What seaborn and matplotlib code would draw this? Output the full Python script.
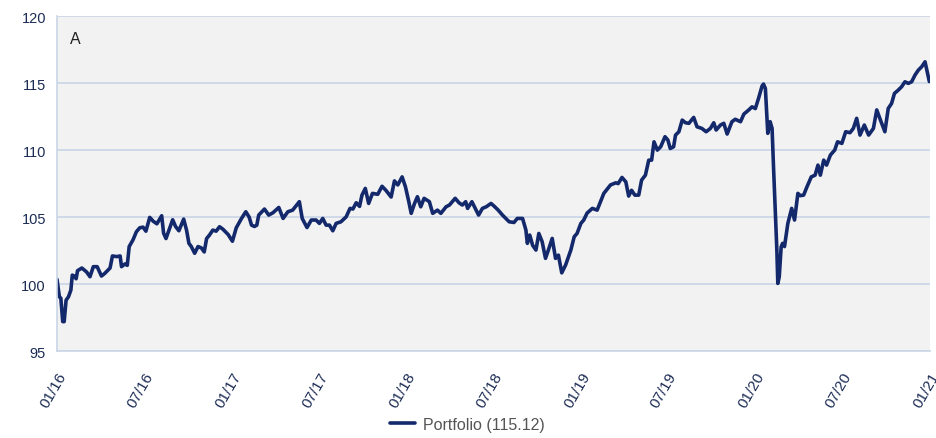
import pandas as pd
import matplotlib
matplotlib.use("Agg")
import matplotlib.pyplot as plt
import matplotlib.dates as mdates
import seaborn as sns

# valeurs (jours depuis le 01/01/2016, niveau de l'indice)
jours = [
    0, 5, 8, 12, 15, 19, 24, 29, 32, 36, 40, 43, 52, 62, 69, 76, 84, 93, 100, 111,
    116, 125, 132, 135, 142, 147, 151, 159, 166, 173, 180, 186, 194, 201, 209, 219, 223, 228, 232, 242,
    248, 255, 265, 271, 276, 281, 288, 295, 302, 308, 313, 319, 326, 333, 340, 347, 358, 367, 375, 386,
    395, 402, 407, 413, 418, 422, 434, 443, 452, 464, 473, 483, 493, 507, 513, 523, 532, 542, 549, 556,
    563, 570, 577, 584, 594, 605, 613, 619, 626, 633, 638, 645, 652, 660, 671, 680, 688, 699, 706, 713,
    722, 729, 736, 741, 748, 754, 761, 768, 779, 786, 796, 803, 814, 821, 833, 841, 848, 855, 859, 868,
    875, 882, 890, 898, 908, 915, 923, 932, 946, 956, 963, 974, 981, 984, 989, 995, 1002, 1008, 1015, 1022,
    1028, 1036, 1043, 1049, 1056, 1064, 1075, 1082, 1088, 1096, 1102, 1109, 1120, 1130, 1137, 1144, 1158, 1169, 1174, 1182,
    1190, 1196, 1202, 1209, 1217, 1223, 1231, 1238, 1244, 1249, 1256, 1263, 1272, 1278, 1283, 1290, 1294, 1301, 1308, 1315,
    1322, 1332, 1339, 1349, 1358, 1367, 1374, 1379, 1388, 1395, 1402, 1412, 1419, 1430, 1437, 1447, 1454, 1461, 1468, 1475,
    1478, 1482, 1487, 1492, 1496, 1499, 1506, 1508, 1511, 1515, 1518, 1522, 1529, 1537, 1543, 1550, 1555, 1562, 1569, 1578,
    1586, 1592, 1597, 1604, 1610, 1618, 1627, 1633, 1642, 1650, 1659, 1666, 1673, 1680, 1689, 1698, 1708, 1715, 1724, 1732,
    1739, 1746, 1752, 1760, 1767, 1774, 1781, 1788, 1795, 1802, 1809, 1816, 1819, 1825,
]
valeurs = [
    100.35, 99.05, 98.95, 97.2, 97.2, 98.8, 99.05, 99.55, 100.67, 100.6, 100.4, 101.0, 101.2, 100.9, 100.55, 101.3, 101.3, 100.6, 100.8, 101.2,
    102.1, 102.05, 102.1, 101.3, 101.5, 101.4, 102.8, 103.3, 103.9, 104.2, 104.25, 103.95, 104.98, 104.7, 104.5, 105.1, 103.8, 103.4, 103.8, 104.8,
    104.3, 103.98, 104.85, 104.03, 103.04, 102.8, 102.3, 102.8, 102.7, 102.4, 103.4, 103.66, 104.03, 103.95, 104.28, 104.1, 103.7, 103.2, 104.2, 104.9,
    105.4, 105.0, 104.4, 104.3, 104.4, 105.15, 105.6, 105.15, 105.33, 105.72, 104.9, 105.4, 105.52, 106.15, 104.9, 104.22, 104.78, 104.78, 104.53, 104.9,
    104.4, 104.4, 103.98, 104.53, 104.65, 105.02, 105.65, 105.6, 106.07, 105.8, 106.64, 107.14, 106.02, 106.77, 106.7, 107.3, 107.0, 106.5, 107.7, 107.4,
    108.0, 107.26, 106.15, 105.28, 106.02, 106.52, 105.77, 106.4, 106.15, 105.28, 105.52, 105.28, 105.77, 105.9, 106.4, 106.07, 105.9, 106.15, 105.65, 106.15,
    105.65, 105.15, 105.65, 105.77, 106.02, 105.8, 105.52, 105.15, 104.65, 104.6, 104.9, 104.9, 104.03, 103.04, 103.66, 102.9, 102.54, 103.78, 103.16, 101.92,
    102.54, 103.41, 101.92, 102.16, 100.84, 101.42, 102.54, 103.53, 103.78, 104.53, 104.78, 105.3, 105.65, 105.52, 106.15, 106.77, 107.4, 107.56, 107.5, 107.96,
    107.63, 106.57, 107.0, 106.64, 106.64, 107.76, 108.13, 109.25, 109.25, 110.62, 110.0, 110.25, 111.0, 110.75, 110.12, 110.25, 111.12, 111.37, 112.24, 112.04,
    112.0, 112.44, 111.74, 111.62, 111.37, 111.62, 112.04, 111.5, 111.87, 112.0, 111.2, 112.12, 112.3, 112.12, 112.69, 112.99, 113.23, 113.1, 113.9, 114.78,
    114.93, 114.6, 111.25, 112.12, 111.62, 108.76, 102.54, 100.05, 100.54, 102.78, 103.04, 102.8, 104.53, 105.65, 104.78, 106.77, 106.6, 106.64, 107.26, 108.0,
    108.13, 108.88, 108.13, 109.25, 108.88, 109.63, 110.0, 110.62, 110.5, 111.37, 111.3, 111.62, 112.37, 111.12, 111.87, 111.12, 111.62, 113.0, 112.12, 111.37,
    113.11, 113.48, 114.23, 114.48, 114.73, 115.1, 114.98, 115.1, 115.6, 115.97, 116.22, 116.59, 116.1, 115.12,
]
y_ticks = [95, 100, 105, 110, 115, 120]
etiquette = "Portfolio (115.12)"

df = pd.DataFrame({
    "date": pd.Timestamp("2016-01-01") + pd.to_timedelta(jours, unit="D"),
    "valeur": valeurs,
})

sns.set_style("white")
plt.rcParams["font.family"] = ["Liberation Sans", "DejaVu Sans"]

bleu = "#13296b"
grille = "#c9d5e6"

fig = plt.figure(figsize=(9.36, 4.39), dpi=100)
ax = fig.add_axes([0.0609, 0.198, 0.933, 0.763])
ax.set_facecolor("#f2f2f2")

sns.lineplot(data=df, x="date", y="valeur", ax=ax, color=bleu, linewidth=2.6, label=etiquette)

ax.set_ylim(95, 120)
ax.set_xlim(pd.Timestamp("2016-01-01"), pd.Timestamp("2021-01-01"))
ax.set_yticks(y_ticks)
ax.yaxis.grid(True, color=grille, linewidth=1.2)
ax.xaxis.grid(False)
ax.set_axisbelow(True)

ax.xaxis.set_major_locator(mdates.MonthLocator(bymonth=[1, 7]))
ax.xaxis.set_major_formatter(mdates.DateFormatter("%m/%y"))
plt.setp(ax.get_xticklabels(), rotation=60, ha="right", rotation_mode="anchor")

ax.tick_params(axis="x", length=10, width=1.2, color=grille, labelsize=11, labelcolor="#1c2c55", pad=3)
ax.tick_params(axis="y", length=0, labelsize=10.5, labelcolor="#1c2c55", pad=8)

for cote in ["top", "right"]:
    ax.spines[cote].set_visible(False)
for cote in ["left", "bottom"]:
    ax.spines[cote].set_color(grille)
    ax.spines[cote].set_linewidth(1.2)

ax.set_xlabel("")
ax.set_ylabel("")
ax.text(0.015, 0.955, "A", transform=ax.transAxes, fontsize=11.5, color="#222222", va="top")

ax.legend(loc="upper center", bbox_to_anchor=(0.47, -0.168), frameon=False,
          fontsize=11.5, handlelength=1.6, handletextpad=0.5, labelcolor="#555555",
          borderaxespad=0.2)

fig.savefig("out.png", dpi=100)
